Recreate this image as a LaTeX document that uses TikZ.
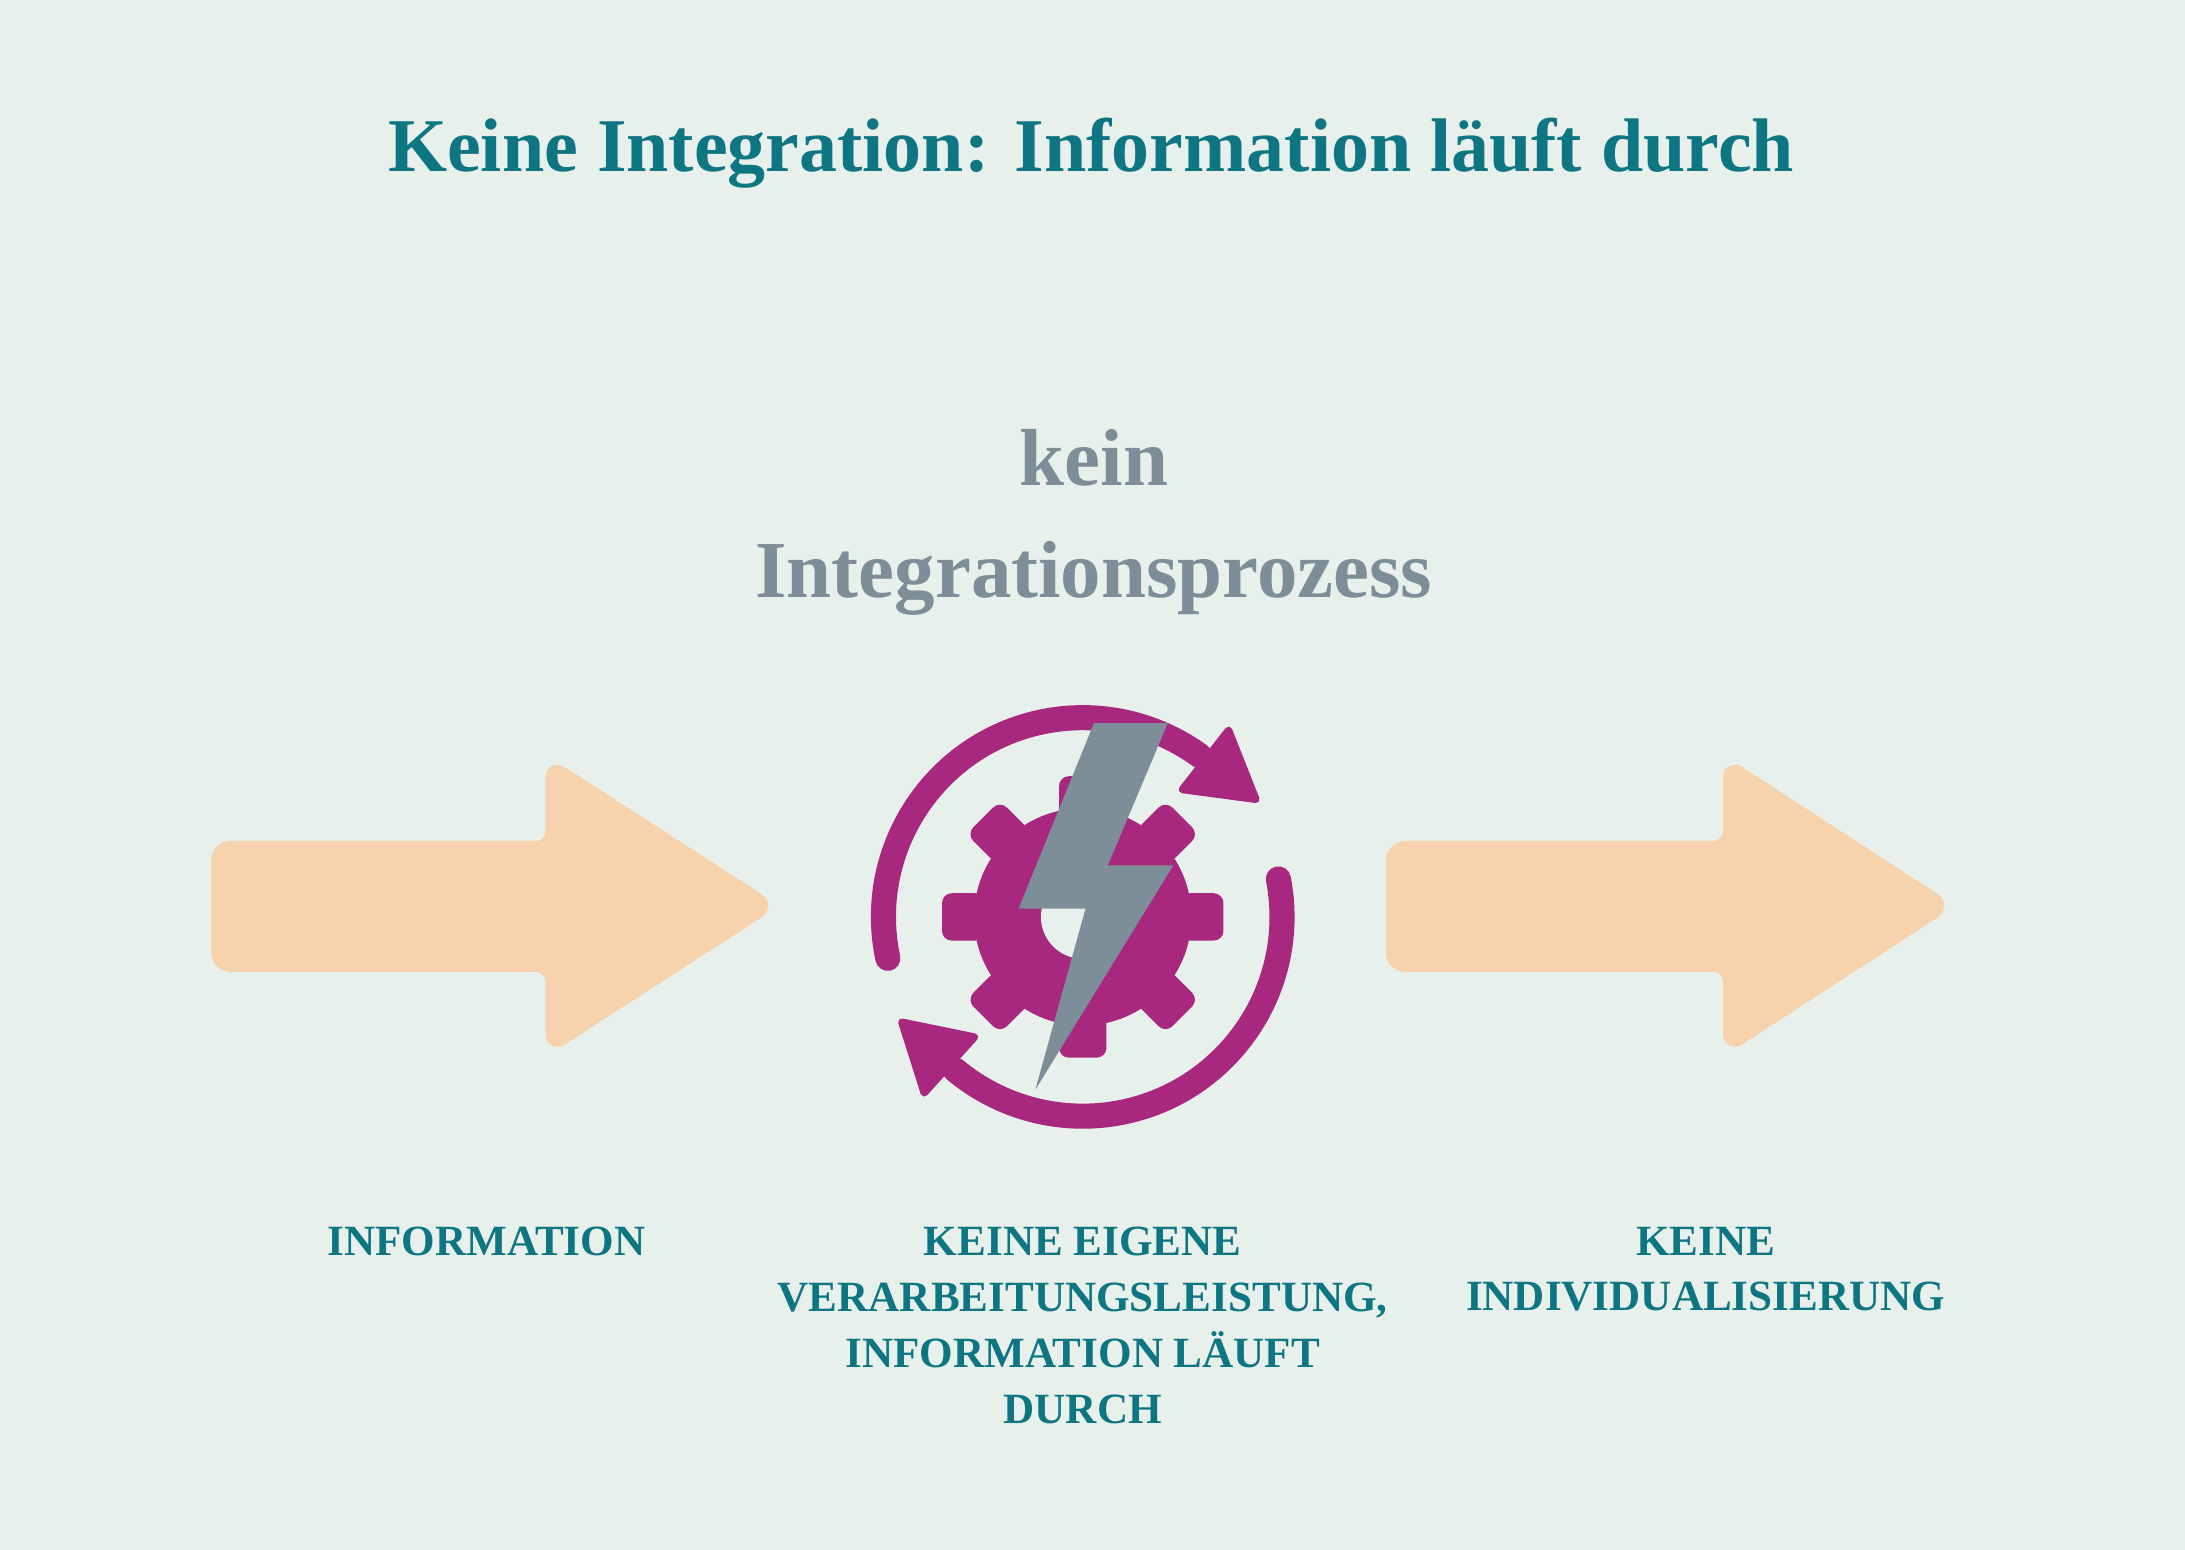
\documentclass[tikz,border=0pt]{standalone}
\usepackage{fontspec}
\setmainfont{Liberation Serif}
\usetikzlibrary{calc}
\definecolor{bg}{HTML}{E8F0EC}
\definecolor{teal}{HTML}{0E7683}
\definecolor{slate}{HTML}{7D8E98}
\definecolor{peach}{HTML}{F6D3AC}
\definecolor{mag}{HTML}{A8287F}
\tikzset{
  bigarrow/.style={fill=peach, draw=peach, line width=2pt, rounded corners=3pt, line join=round},
  lab/.style={text=teal, font=\fontsize{8.8}{11.4}\selectfont\bfseries, align=center, anchor=north},
  ring/.style={draw=mag, line width=0.18cm, line cap=round},
  tip/.style={fill=mag, draw=mag, line width=1.5pt, line join=round}
}
\begin{document}
\begin{tikzpicture}[x=0.01cm,y=0.01cm]
\fill[bg] (0,0) rectangle (1568,-1112);
\useasboundingbox (0,0) rectangle (1568,-1112);
\node[text=teal, font=\fontsize{15.5}{20}\selectfont\bfseries] (title) at (783,-110) {Keine Integration: Information läuft durch};
\node[text=slate, font=\fontsize{16.5}{22.8}\selectfont\bfseries, align=center] (proc) at (785,-375) {kein\\Integrationsprozess};
% arrows
\draw[bigarrow] (155,-607) -- (395,-607) -- (395,-548) -- (553,-650) -- (395,-752) -- (395,-694) -- (155,-694) -- cycle;
\draw[bigarrow] (998,-607) -- (1240,-607) -- (1240,-548) -- (1397,-650) -- (1240,-752) -- (1240,-694) -- (998,-694) -- cycle;
% gear
\begin{scope}[shift={(777,-658)}]
  \fill[mag] (0,0) circle (78);
  \foreach \a in {0,45,...,315}
    \fill[mag, rotate=\a, rounded corners=2pt] (70,-17) rectangle (101,17);
  \fill[bg] (0,0) circle (30);
  \draw[ring] (192:143) arc[start angle=192, end angle=54, radius=143];
  \draw[ring] (11:143) arc[start angle=11, end angle=-130, radius=143];
  \draw[tip] (52:116) -- (52:170) -- ($(52:143)+(-38:46)$) -- cycle;
  \draw[tip] (228:116) -- (228:170) -- ($(228:143)+(138:46)$) -- cycle;
\end{scope}
\fill[slate] (785,-519) -- (838,-519) -- (795,-621) -- (842,-621) -- (743,-782) -- (779,-652) -- (731,-652) -- cycle;
% labels
\node[lab] (l1) at (349,-868) {INFORMATION};
\node[lab] (l2) at (777,-868) {KEINE EIGENE\\VERARBEITUNGSLEISTUNG,\\INFORMATION LÄUFT\\DURCH};
\node[lab] (l3) at (1224,-868) {KEINE\\INDIVIDUALISIERUNG};
\end{tikzpicture}
\end{document}
